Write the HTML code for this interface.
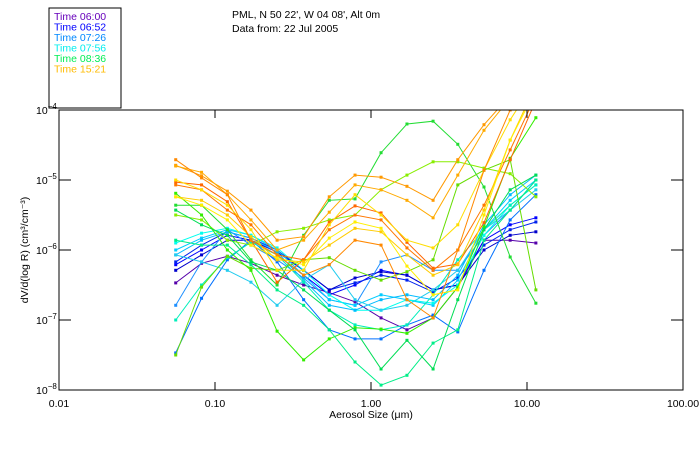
<!DOCTYPE html>
<html><head><meta charset="utf-8"><style>
html,body{margin:0;padding:0;background:#fff;}
svg{display:block;font-family:"Liberation Sans",sans-serif;}
</style></head><body>
<svg id="chart" width="700" height="450">
<defs><clipPath id="plotclip"><rect x="59" y="110" width="624" height="280"/></clipPath></defs>
<rect x="49" y="8" width="72" height="100" fill="none" stroke="#000" stroke-width="1"/>
<g id="legend" font-size="10.5"></g>
<text x="232" y="18" font-size="10.5">PML, N 50 22', W 04 08', Alt 0m</text>
<text x="232" y="32" font-size="10.5">Data from: 22 Jul 2005</text>
<g id="series" clip-path="url(#plotclip)"></g>
<rect x="59" y="110" width="624" height="280" fill="none" stroke="#000" stroke-width="1"/>
<g id="axes" font-size="10.5"></g>
<text x="371" y="418" text-anchor="middle" font-size="10.5">Aerosol Size (μm)</text>
<text transform="translate(28,250) rotate(-90)" text-anchor="middle" font-size="10.5">dV/d(log R) (cm³/cm⁻³)</text>
</svg>
<script>
const sizes=[0.056,0.082,0.12,0.17,0.25,0.37,0.54,0.79,1.16,1.7,2.5,3.6,5.3,7.8,11.4];
const xTicks=[0.01,0.1,1,10,100];
const xTickLabels=["0.01","0.10","1.00","10.00","100.00"];
const yTickExps=[-4,-5,-6,-7,-8];
const legendLabels=["Time 06:00","Time 06:52","Time 07:26","Time 07:56","Time 08:36","Time 15:21"];
const legendColors=["#6600bb","#0000ff","#0088ff","#00eeee","#00ee55","#ffbb00"];
// log10 of dV/dlogR per series
const o1=[-4.79,-4.94,-5.16,-5.43,-5.86,-5.81,-5.24,-4.93,-4.96,-5.09,-5.29,-4.71,-4.21,-3.79,-3.29];
const o2=[-4.8,-4.89,-5.21,-5.57,-6,-5.86,-5.46,-5.07,-5.14,-5.29,-5.54,-4.93,-4.29,-3.83,-3.36];
const o3=[-5.03,-5.07,-5.31,-5.86,-6.46,-6.14,-5.6,-5.37,-5.47,-5.89,-6.26,-6.2,-5.61,-4.71,-3.86];
const o4=[-5.07,-5.14,-5.43,-5.64,-6.07,-6.14,-5.71,-5.5,-5.57,-5.97,-6.29,-6,-5.36,-4.57,-3.79];
const o5=[-5.24,-5.29,-5.5,-5.81,-6.14,-6.17,-5.93,-5.69,-5.74,-6.07,-6.36,-6.21,-5.43,-4.43,-3.64];
const o6=[-5.24,-5.36,-5.57,-5.93,-6.11,-6.21,-5.83,-5.6,-5.69,-6.23,-6.64,-6.57,-5.5,-4.43,-3.71];
const o7=[-5,-5.14,-5.36,-5.71,-6.29,-6.29,-5.64,-5.21,-5.5,-5.86,-5.97,-5.64,-4.86,-4.14,-3.57];
const o8=[-4.71,-4.97,-5.21,-5.86,-6.07,-6.36,-6.21,-5.86,-5.93,-6.71,-6.97,-6,-4.86,-4,-3.43];
const g1=[-5.36,-5.36,-5.71,-6.14,-6.5,-5.79,-5.29,-5.27,-4.61,-4.2,-4.16,-4.49,-5.1,-6.1,-6.76];
const g2=[-5.5,-5.57,-5.86,-5.93,-5.74,-5.69,-5.57,-5.5,-5.14,-4.93,-4.74,-4.74,-4.83,-4.91,-5.24];
const g3=[-7.5,-6.53,-6.09,-6.26,-6.29,-6.14,-6.11,-6.29,-6.43,-6.31,-6.14,-5.07,-4.86,-4.71,-6.57];
const g4=[-5.19,-5.5,-6,-6.29,-7.16,-7.57,-7.27,-7.11,-7.13,-7.19,-6.97,-6.53,-5.67,-4.69,-4.11];
const g5=[-5.86,-5.93,-5.93,-6.21,-6.57,-6.79,-7.14,-7.6,-7.93,-7.79,-7.33,-7.14,-5.86,-5.43,-5];
const g6=[-5.43,-5.64,-5.79,-6.17,-6.29,-6.57,-6.86,-7.14,-7.7,-7.29,-7.7,-6.71,-5.71,-5.14,-4.93];
const b1=[-6.21,-6,-5.79,-5.86,-6.07,-6.36,-6.64,-6.5,-6.29,-6.36,-6.57,-6.5,-5.86,-5.64,-5.54];
const b2=[-6.17,-5.93,-5.74,-5.83,-6,-6.29,-6.57,-6.47,-6.36,-6.43,-6.6,-6.4,-5.93,-5.71,-5.6];
const b3=[-6.79,-6.17,-5.71,-5.93,-6.14,-6.4,-6.71,-6.79,-6.17,-6.07,-6.29,-6.29,-5.79,-5.43,-5];
const b4=[-7.47,-6.69,-6.14,-5.86,-6.17,-6.71,-7.14,-7.27,-7.27,-7.07,-6.93,-7.17,-6.29,-5.57,-5.21];
const b5=[-6.47,-6.19,-6.09,-6.19,-6.36,-6.5,-6.61,-6.74,-6.97,-7.14,-6.97,-6.53,-5.86,-5.86,-5.9];
const b6=[-6.29,-6.07,-5.86,-5.86,-6.03,-6.29,-6.57,-6.4,-6.31,-6.36,-6.57,-6.5,-6,-5.79,-5.74];
const c1=[-6,-5.83,-5.71,-5.79,-6,-6.36,-6.71,-6.79,-6.64,-6.71,-6.79,-6.43,-5.71,-5.29,-5];
const c2=[-5.9,-5.76,-5.69,-5.79,-5.97,-6.29,-6.64,-6.86,-6.86,-6.71,-6.76,-6.5,-5.79,-5.36,-5.07];
const c3=[-6.07,-5.86,-5.74,-5.83,-6.03,-6.43,-6.79,-6.86,-6.71,-6.64,-6.71,-6.36,-5.64,-5.21,-4.93];
const c4=[-6.07,-6.17,-6.29,-6.46,-6.79,-6.43,-6.21,-6.71,-6.86,-6.79,-6.57,-6.29,-5.71,-5.43,-5.14];
const c5=[-7,-6.5,-6.11,-5.89,-6.07,-6.46,-6.86,-7.07,-7.14,-7.07,-6.64,-6.14,-5.71,-5.36,-5.07];
const seriesList=[b5,b1,b2,b6,b3,b4,c1,c2,c3,c4,c5,g1,g2,g3,g4,g5,g6,o1,o2,o3,o4,o5,o6,o7,o8];
const seriesColors=["#5500aa","#0000ff","#0022ee","#0000cc","#1e90ff","#0070ff","#00ccff","#00ffee","#00bbff","#22ccee","#00eebb","#22dd33","#88ee00","#66dd00","#33ee00","#00ee88","#00dd55","#ff9900","#ffaa00","#ff6600","#ff7700","#ffcc00","#ffee00","#ffdd00","#ff8800"];
const NS="http://www.w3.org/2000/svg";
const X0=59,X1=683,Y0=110,Y1=390;
function xs(v){return X0+(Math.log10(v)+2)/4*(X1-X0);}
function ys(e){return Y0+(-4-e)/4*(Y1-Y0);}
const axes=document.getElementById('axes');
function mk(tag,attrs,parent){const el=document.createElementNS(NS,tag);for(const k in attrs)el.setAttribute(k,attrs[k]);parent.appendChild(el);return el;}
xTicks.forEach((t,i)=>{
  const x=xs(t);
  if(i>0&&i<xTicks.length-1){
    const a=mk('line',{x1:x,x2:x,y1:Y1,y2:Y1-8,stroke:'#000'},axes);
    
    
    const b=mk('line',{x1:x,x2:x,y1:Y0,y2:Y0+8,stroke:'#000'},axes);
    
    
  }
  const tx=mk('text',{x:x,y:Y1+17,'text-anchor':'middle'},axes);
  tx.textContent=xTickLabels[i];
  
  
});
yTickExps.forEach((e,i)=>{
  const y=ys(e);
  if(i>0&&i<yTickExps.length-1){
    const a=mk('line',{x1:X0,x2:X0+12,y1:y,y2:y,stroke:'#000'},axes);
    
    
    const b=mk('line',{x1:X1,x2:X1-12,y1:y,y2:y,stroke:'#000'},axes);
    
    
  }
  const tx=mk('text',{x:36,y:y+4},axes);
  
  
  tx.textContent='10';
  const sp=mk('tspan',{dy:-5,'font-size':'8'},tx);sp.textContent=String(e).replace('-','−');
});
const lg=document.getElementById('legend');
legendLabels.forEach((l,i)=>{
  const t=mk('text',{x:54,y:20+i*10.5,fill:legendColors[i]},lg);
  t.textContent=l;
  
  
});
const sg=document.getElementById('series');
seriesList.forEach((s,si)=>{
  const g=mk('g',{},sg);
  
  
  const pts=s.map((e,i)=>xs(sizes[i]).toFixed(1)+','+ys(e).toFixed(1)).join(' ');
  const pl=mk('polyline',{points:pts,fill:'none',stroke:seriesColors[si],'stroke-width':1},g);
  
  
  s.forEach((e,i)=>{
    const r=mk('rect',{x:xs(sizes[i])-1.5,y:ys(e)-1.5,width:3,height:3,fill:seriesColors[si]},g);
    
    
  });
});
</script>
</body></html>
